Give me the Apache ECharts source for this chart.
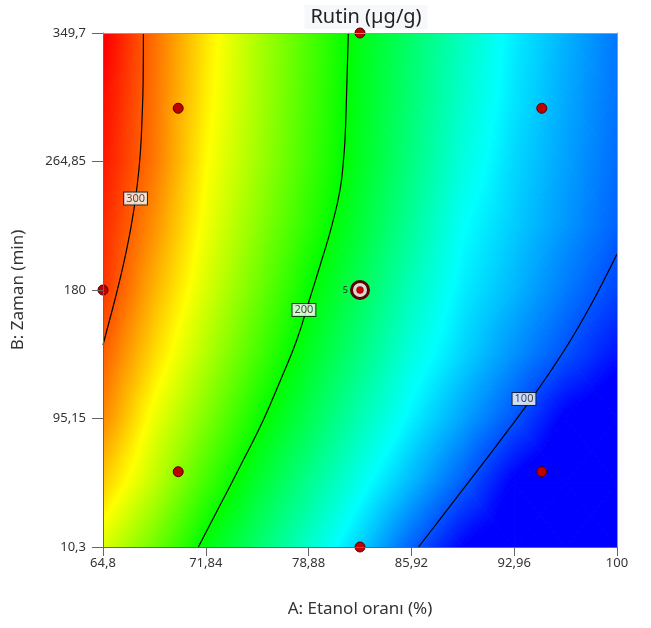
<!DOCTYPE html>
<html><head><meta charset="utf-8">
<script src="https://cdn.jsdelivr.net/npm/echarts@6/dist/echarts.min.js"></script>
<style>html,body{margin:0;padding:0;background:#fff}#c{width:651px;height:628px}</style>
</head><body><div id="c"></div>
<script>
// Axis ticks
const xTicks = [64.8, 71.84, 78.88, 85.92, 92.96, 100];
const yTicks = [10.3, 95.15, 180, 264.85, 349.7];
const gridX = [64.8, 68.32, 71.84, 75.36, 78.88, 82.4, 85.92, 89.44, 92.96, 96.48, 100];
const gridY = [10.3, 52.725, 95.15, 137.575, 180, 222.425, 264.85, 307.275, 349.7];
const rutin_y10  = [252, 226, 197, 174.5, 152, 129, 103, 80, 72, 62, 52];
const rutin_y53  = [272, 245, 215, 189, 166.5, 144, 123, 102, 78, 69, 60];
const rutin_y95  = [288, 256, 230, 203.5, 181, 158, 137, 118.5, 100, 78, 70];
const rutin_y138 = [298, 268.5, 242, 216.5, 192, 170, 147, 130, 114, 99, 84];
const rutin_y180 = [308, 278, 251, 226, 201, 179, 156, 136, 123, 109, 96];
const rutin_y222 = [311, 286, 257, 233, 210, 187, 164, 141, 128, 115.5, 103];
const rutin_y265 = [315, 292, 261, 238, 215, 192.5, 170, 147.5, 131, 118, 105.5];
const rutin_y307 = [318, 293, 264, 240, 217, 194, 173, 152, 134, 120, 107];
const rutin_y350 = [322, 294, 266, 241, 218, 195, 175, 155, 136, 122, 108];
const rutinRows = [rutin_y10, rutin_y53, rutin_y95, rutin_y138, rutin_y180, rutin_y222, rutin_y265, rutin_y307, rutin_y350];
// colour scale
const colorLevels = [80, 140, 200, 260, 320];
const colorRGB = [[0,0,255],[0,255,255],[0,255,0],[255,255,0],[255,0,0]];
// contour lines [A, B]
const contour300 = [[67.57,349.7],[67.55,318.7],[67.47,292.2],[67.37,272.4],[67.22,255.9],[67.01,239.4],[66.74,222.9],[66.41,206.4],[66.03,189.9],[65.61,173.4],[65.16,156.9],[64.80,143.7]];
const contour200 = [[81.60,349.7],[81.47,305.5],[81.37,279.0],[81.27,265.8],[81.03,246.0],[80.48,222.9],[79.78,199.8],[78.93,173.4],[78.07,147.0],[76.96,120.6],[75.78,94.2],[74.41,67.7],[73.00,41.3],[71.33,10.3]];
const contour100 = [[100,203.8],[99.11,186.6],[98.02,166.8],[96.83,147.0],[95.51,127.2],[94.08,107.4],[92.56,87.6],[90.99,67.7],[89.41,47.9],[87.83,28.1],[86.41,10.3]];
const contourLabels = [[67.03,240.4,'300'],[78.56,166.8,'200'],[93.63,108,'100']];
// design points
const designA = [69.95, 94.85, 64.8, 82.4, 82.4, 69.95, 94.85];
const designB = [300, 300, 180, 349.7, 10.3, 60, 60];
const centerPoint = [82.4, 180];
const centerReps = '5';

function valueToRGB(v){
  if (v <= colorLevels[0]) return colorRGB[0];
  const n = colorLevels.length;
  if (v >= colorLevels[n-1]) return colorRGB[n-1];
  for (let k=0;k<n-1;k++){
    if (v <= colorLevels[k+1]){
      const t = (v-colorLevels[k])/(colorLevels[k+1]-colorLevels[k]);
      const a = colorRGB[k], b = colorRGB[k+1];
      return [0,1,2].map(m => Math.round(a[m]+(b[m]-a[m])*t));
    }
  }
}
function rgbStr(c){ return 'rgb('+c[0]+','+c[1]+','+c[2]+')'; }
function triFill(P, V){
  const [x0,y0]=P[0],[x1,y1]=P[1],[x2,y2]=P[2];
  const det = (x1-x0)*(y2-y0)-(x2-x0)*(y1-y0);
  const vlo = Math.min(V[0],V[1],V[2]), vhi = Math.max(V[0],V[1],V[2]);
  if (Math.abs(det) < 1e-9 || vhi-vlo < 1e-9) return rgbStr(valueToRGB(V[0]));
  const a = ((V[1]-V[0])*(y2-y0)-(y1-y0)*(V[2]-V[0]))/det;
  const b = ((x1-x0)*(V[2]-V[0])-(V[1]-V[0])*(x2-x0))/det;
  const g2 = a*a+b*b;
  if (g2 < 1e-12) return rgbStr(valueToRGB(V[0]));
  const ux=a/g2, uy=b/g2;
  const vals=[vlo].concat(colorLevels.filter(l=>l>vlo&&l<vhi)).concat([vhi]);
  return {type:'linear', global:true,
    x:x0+(vlo-V[0])*ux, y:y0+(vlo-V[0])*uy, x2:x0+(vhi-V[0])*ux, y2:y0+(vhi-V[0])*uy,
    colorStops: vals.map(v=>({offset:(v-vlo)/(vhi-vlo), color:rgbStr(valueToRGB(v))}))};
}
const cellData=[];
for (let j=0;j<gridY.length-1;j++) for (let i=0;i<gridX.length-1;i++)
  cellData.push([(gridX[i]+gridX[i+1])/2,(gridY[j]+gridY[j+1])/2,i,j]);

function renderCell(params, api){
  const i=api.value(2), j=api.value(3);
  const p00=api.coord([gridX[i],gridY[j]]), p10=api.coord([gridX[i+1],gridY[j]]);
  const p01=api.coord([gridX[i],gridY[j+1]]), p11=api.coord([gridX[i+1],gridY[j+1]]);
  const v00=rutinRows[j][i], v10=rutinRows[j][i+1], v01=rutinRows[j+1][i], v11=rutinRows[j+1][i+1];
  const pc=[(p00[0]+p11[0])/2,(p00[1]+p11[1])/2], vc=(v00+v10+v01+v11)/4;
  const tris=[[[p00,p10,pc],[v00,v10,vc]],[[p10,p11,pc],[v10,v11,vc]],[[p11,p01,pc],[v11,v01,vc]],[[p01,p00,pc],[v01,v00,vc]]];
  return {type:'group', children: tris.map(t=>{const f=triFill(t[0],t[1]);
    return {type:'polygon', shape:{points:t[0]}, style:{fill:f, stroke:f, lineWidth:1, lineJoin:'round'}};})};
}
function fmt(v){ return String(Math.round(v*100)/100).replace('.',','); }
const FONT='"Noto Sans", "Open Sans", sans-serif';
const chart = echarts.init(document.getElementById('c'), null, {renderer:'canvas'});
chart.setOption({
  animation:false,
  backgroundColor:'#fff',
  textStyle:{fontFamily:FONT},
  title:{text:'Rutin (µg/g)', left:360, top:5, textAlign:'center', padding:[2,6],
    backgroundColor:'#f6f8fb',
    textStyle:{fontSize:20, fontWeight:'normal', color:'#222', fontFamily:FONT}},
  grid:{left:103, right:34, top:33, bottom:81},
  xAxis:[{type:'value', min:xTicks[0], max:xTicks[xTicks.length-1], interval:xTicks[1]-xTicks[0], z:10,
    name:'A: Etanol oranı (%)', nameLocation:'middle', nameGap:54,
    nameTextStyle:{fontSize:17, color:'#333', fontFamily:FONT},
    axisLine:{lineStyle:{color:'#666', width:1}}, axisTick:{length:9, lineStyle:{color:'#666'}},
    axisLabel:{fontSize:13, color:'#333', margin:10, formatter:fmt, fontFamily:FONT},
    splitLine:{show:false}},
   {type:'value', position:'top', min:xTicks[0], max:xTicks[xTicks.length-1], z:10,
    axisLine:{onZero:false, lineStyle:{color:'#999'}}, axisTick:{show:false}, axisLabel:{show:false}, splitLine:{show:false}}],
  yAxis:[{type:'value', min:yTicks[0], max:yTicks[yTicks.length-1], interval:yTicks[1]-yTicks[0], z:10,
    name:'B: Zaman (min)', nameLocation:'middle', nameGap:76,
    nameTextStyle:{fontSize:17, color:'#333', fontFamily:FONT},
    axisLine:{show:true, lineStyle:{color:'#666'}}, axisTick:{show:true, length:11, lineStyle:{color:'#666'}},
    axisLabel:{fontSize:13, color:'#333', margin:17, formatter:fmt, fontFamily:FONT},
    splitLine:{show:false}},
   {type:'value', position:'right', min:yTicks[0], max:yTicks[yTicks.length-1], z:10,
    axisLine:{show:true, onZero:false, lineStyle:{color:'#999'}}, axisTick:{show:false}, axisLabel:{show:false}, splitLine:{show:false}}],
  series:[
    {type:'custom', xAxisIndex:0, yAxisIndex:0, clip:true, renderItem:renderCell, data:cellData, encode:{x:0,y:1}, z:1, silent:true},
    {type:'line', data:contour300, smooth:true, symbol:'none', lineStyle:{color:'#000', width:1.2}, z:3, silent:true},
    {type:'line', data:contour200, smooth:true, symbol:'none', lineStyle:{color:'#000', width:1.2}, z:3, silent:true},
    {type:'line', data:contour100, smooth:true, symbol:'none', lineStyle:{color:'#000', width:1.2}, z:3, silent:true},
    {type:'scatter', data:contourLabels, symbolSize:0, z:4, silent:true,
      label:{show:true, position:'inside', formatter:p=>p.value[2], fontSize:11, color:'#222', fontFamily:FONT,
        backgroundColor:'#fff', borderColor:'#111', borderWidth:1, padding:[1,2,0,2]}},
    {type:'scatter', data:designA.map((a,k)=>[a,designB[k]]), symbol:'circle', symbolSize:10, clip:false, z:6,
      itemStyle:{color:'#c00000', borderColor:'#4a0000', borderWidth:1, opacity:1}},
    {type:'scatter', data:[centerPoint], symbol:'circle', symbolSize:17, clip:false, z:6,
      itemStyle:{color:'#d8d8d8', borderColor:'#5c0000', borderWidth:3, opacity:1},
      label:{show:true, position:'left', distance:2, formatter:centerReps, fontSize:9, color:'#222'}},
    {type:'scatter', data:[centerPoint], symbol:'circle', symbolSize:7, clip:false, z:7,
      itemStyle:{color:'#cc0000', borderColor:'#800000', borderWidth:0.5, opacity:1}}
  ]
});
</script></body></html>
